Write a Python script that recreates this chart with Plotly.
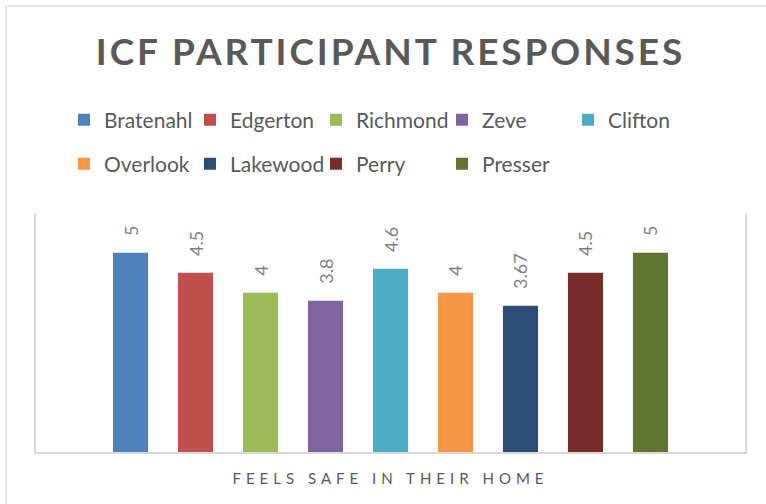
import plotly.graph_objects as go

category = ["Feels Safe in their Home"]
sites = ["Bratenahl", "Edgerton", "Richmond", "Zeve", "Clifton",
         "Overlook", "Lakewood", "Perry", "Presser"]
scores = [5, 4.5, 4, 3.8, 4.6, 4, 3.67, 4.5, 5]
colors = ["#4F81BD", "#C0504D", "#9BBB59", "#8064A2", "#4BACC6",
          "#F79646", "#2C4D75", "#772C2A", "#5F7530"]
row1 = sites[:5]

PAD = "\u00a0" * 3
FONT = "Lato"

fig = go.Figure()
for name, val, col in zip(sites, scores, colors):
    fig.add_trace(go.Bar(
        x=category, y=[val], name=name,
        marker=dict(color=col, line=dict(width=0)),
        text=[PAD + f"{val:g}"], textposition="outside", textangle=-90,
        textfont=dict(family=FONT, size=18, color="#7F7F7F"),
        constraintext="none", cliponaxis=False,
        legend="legend" if name in row1 else "legend2",
    ))

W, H = 766, 504
L, R, T, B = 36, 21, 213, 52
pw, ph = W - L - R, H - T - B

def px_x(v):
    return (v - L) / pw

def px_y(v):
    return (H - B - v) / ph

legend_common = dict(
    orientation="h", xanchor="left", yanchor="middle",
    font=dict(family=FONT, size=21, color="#595959"),
    entrywidth=81, entrywidthmode="pixels", itemwidth=30,
    bgcolor="rgba(0,0,0,0)", borderwidth=0, traceorder="normal",
    itemclick=False, itemdoubleclick=False,
)

fig.update_layout(
    width=W, height=H,
    margin=dict(l=L, r=R, t=T, b=B, autoexpand=False),
    paper_bgcolor="white", plot_bgcolor="white",
    barmode="group", bargap=0.175, bargroupgap=0.46,
    title=dict(
        text='<span style="letter-spacing:2.9px">ICF PARTICIPANT RESPONSES</span>',
        font=dict(family=FONT, size=37, color="#595959", weight="bold"),
        x=0.5, xref="paper", xanchor="center",
        y=1 - 52 / H, yref="container", yanchor="middle",
    ),
    legend=dict(x=px_x(64), y=px_y(120), **legend_common),
    legend2=dict(x=px_x(64), y=px_y(164), **legend_common),
    xaxis=dict(
        showticklabels=False, ticks="", showgrid=False,
        showline=True, linecolor="#D9D9D9", linewidth=1.5,
        title=dict(
            text='<span style="letter-spacing:5px">FEELS SAFE IN THEIR HOME</span>',
            font=dict(family=FONT, size=15, color="#595959"),
            standoff=21,
        ),
    ),
    yaxis=dict(
        range=[0, 6], showticklabels=False, ticks="", showgrid=False,
        zeroline=False, showline=True, mirror=True,
        linecolor="#D9D9D9", linewidth=1.5,
    ),
    showlegend=True,
    shapes=[
        dict(type="line", xref="paper", yref="paper",
             x0=px_x(6), x1=px_x(W + 10), y0=px_y(6), y1=px_y(6),
             line=dict(color="#D9D9D9", width=1.5)),
        dict(type="line", xref="paper", yref="paper",
             x0=px_x(6), x1=px_x(6), y0=px_y(6), y1=px_y(H + 10),
             line=dict(color="#D9D9D9", width=1.5)),
    ],
)

fig.write_html("out.html")
